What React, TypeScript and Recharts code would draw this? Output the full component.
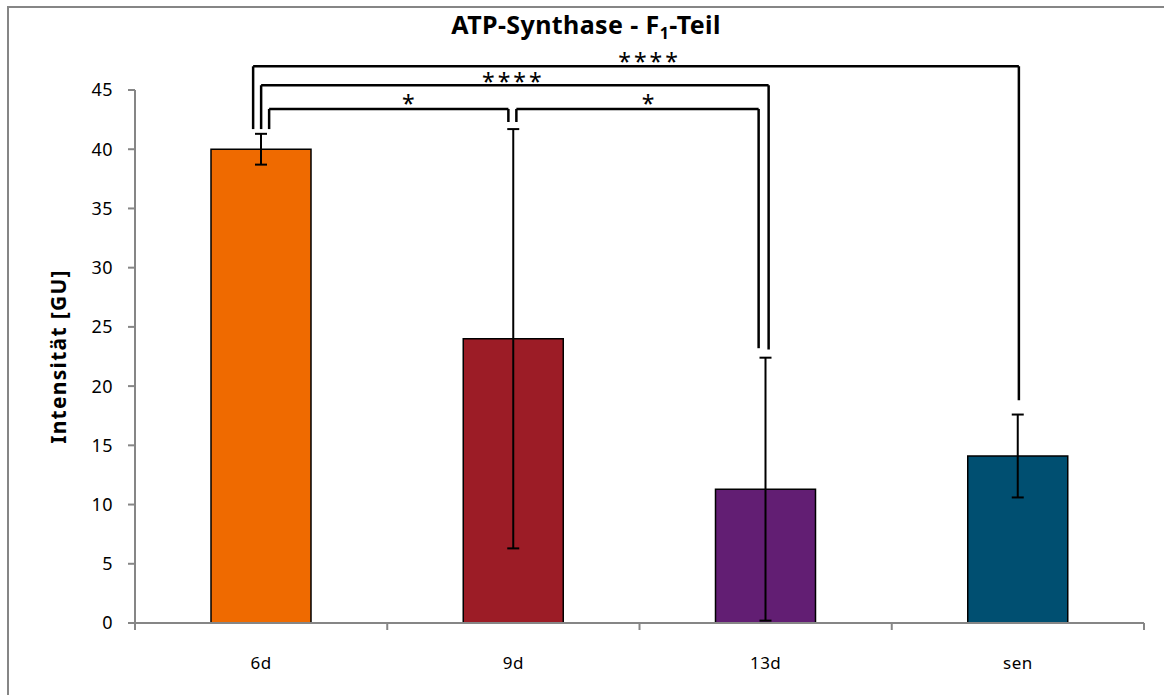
import { BarChart, Bar, XAxis, YAxis, ErrorBar, Cell, ReferenceLine, ReferenceDot } from 'recharts';

// values
const categories = ['6d', '9d', '13d', 'sen'];
const intensity = [40.0, 24.0, 11.3, 14.1];
const errors = [1.3, 17.7, 11.1, 3.5];
const yTicks = [0, 5, 10, 15, 20, 25, 30, 35, 40, 45];
const xTicks = [-0.5, 0, 0.5, 1, 1.5, 2, 2.5, 3, 3.5];

// significance brackets: category indices, bar level and the two leg ends (GU)
const bracketFrom = [0, 0, 0, 1];
const bracketTo = [3, 2, 1, 2];
const bracketLevel = [47.0, 45.4, 43.4, 43.4];
const bracketFromEnd = [41.7, 41.7, 41.7, 42.3];
const bracketToEnd = [18.8, 23.1, 42.3, 23.2];
const starText = ['****', '****', '*', '*'];
const starX = [1.54, 1.0, 0.59, 1.54];
const starY = [47.8, 46.1, 44.2, 44.2];

// styles
const barColors = ['#EF6A00', '#9C1C26', '#621E73', '#004F71'];
const AXIS = '#868686';
const FONT = '"Noto Sans", sans-serif';
const legNudge = [[-8, 1], [0, 3], [8, -5], [3, -7]]; // px, so the legs sit side by side

const data = categories.map((c, i) => ({ idx: i, name: c, value: intensity[i], err: errors[i] }));

const CategoryTick = (props: any) => {
  const { x, y, payload } = props;
  const v = payload.value;
  if (Number.isInteger(v)) {
    return (
      <text x={x} y={y + 46} textAnchor="middle" fontSize={17} letterSpacing={0.5} fill="#000" fontFamily={FONT}>
        {categories[v]}
      </text>
    );
  }
  return <line x1={x} y1={y} x2={x} y2={y + 7} stroke={AXIS} strokeWidth={2} />;
};

const nudged = (dx1: number, dx2: number) => (p: any) => (
  <line x1={p.x1 + dx1} y1={p.y1} x2={p.x2 + dx2} y2={p.y2} stroke="#000" strokeWidth={2.5} />
);

export default function App() {
  return (
    <div style={{ position: 'absolute', left: 0, top: 0, width: 1164, height: 695, background: '#fff', fontFamily: FONT }}>
      <div
        style={{
          position: 'absolute',
          left: 7,
          top: 6,
          right: 0,
          bottom: 0,
          borderLeft: `2px solid ${AXIS}`,
          borderTop: `2px solid ${AXIS}`,
        }}
      />
      <svg width={1164} height={50} style={{ position: 'absolute', left: 0, top: 0 }}>
        <text
          x={586}
          y={34}
          textAnchor="middle"
          fontSize={25}
          letterSpacing={0.4}
          fontWeight="bold"
          fontFamily={FONT}
          fill="#000"
        >
          ATP-Synthase - F
          <tspan dy={5} fontSize={16}>1</tspan>
          <tspan dy={-5}>-Teil</tspan>
        </text>
      </svg>
      <div style={{ position: 'absolute', left: 0, top: 0 }}>
        <BarChart width={1164} height={695} data={data} margin={{ top: 90, right: 20, bottom: 0, left: 0 }}>
          <XAxis
            dataKey="idx"
            type="number"
            domain={[-0.5, 3.5]}
            ticks={xTicks}
            interval={0}
            tickSize={0}
            tickMargin={0}
            tickLine={false}
            tick={<CategoryTick />}
            axisLine={{ stroke: AXIS, strokeWidth: 2 }}
            height={72}
          />
          <YAxis
            domain={[0, 45]}
            ticks={yTicks}
            interval={0}
            width={135}
            tickSize={7}
            tickMargin={15}
            tick={{ fill: '#000', fontSize: 18, letterSpacing: 0.5, fontFamily: FONT }}
            tickLine={{ stroke: AXIS, strokeWidth: 2 }}
            axisLine={{ stroke: AXIS, strokeWidth: 2 }}
            label={{
              content: (p: any) => {
                const vb = p.viewBox;
                const cy = vb.y + vb.height / 2;
                return (
                  <text
                    x={58}
                    y={cy}
                    transform={`rotate(-90 58 ${cy})`}
                    textAnchor="middle"
                    dominantBaseline="central"
                    fontSize={21}
                    letterSpacing={1.3}
                    fontWeight="bold"
                    fontFamily={FONT}
                    fill="#000"
                  >
                    Intensität [GU]
                  </text>
                );
              },
            }}
          />
          <Bar dataKey="value" barSize={100} stroke="#000" strokeWidth={1.5} isAnimationActive={false}>
            {data.map((d, i) => (
              <Cell key={d.name} fill={barColors[i]} />
            ))}
            <ErrorBar dataKey="err" direction="y" width={6} stroke="#000" strokeWidth={2} isAnimationActive={false} />
          </Bar>
          {bracketFrom.map((f, i) => {
            const t = bracketTo[i];
            const [n1, n2] = legNudge[i];
            return [
              <ReferenceLine
                key={`l${i}`}
                ifOverflow="visible"
                segment={[{ x: f, y: bracketFromEnd[i] }, { x: f, y: bracketLevel[i] }]}
                shape={nudged(n1, n1)}
              />,
              <ReferenceLine
                key={`h${i}`}
                ifOverflow="visible"
                segment={[{ x: f, y: bracketLevel[i] }, { x: t, y: bracketLevel[i] }]}
                shape={nudged(n1, n2)}
              />,
              <ReferenceLine
                key={`r${i}`}
                ifOverflow="visible"
                segment={[{ x: t, y: bracketLevel[i] }, { x: t, y: bracketToEnd[i] }]}
                shape={nudged(n2, n2)}
              />,
            ];
          })}
          {starText.map((s, i) => (
            <ReferenceDot
              key={`s${i}`}
              x={starX[i]}
              y={starY[i]}
              r={0}
              ifOverflow="visible"
              shape={(p: any) => (
                <text
                  x={p.cx}
                  y={p.cy + 13}
                  textAnchor="middle"
                  fontSize={23}
                  letterSpacing={3}
                  fontFamily={FONT}
                  fill="#000"
                >
                  {s}
                </text>
              )}
            />
          ))}
        </BarChart>
      </div>
    </div>
  );
}
